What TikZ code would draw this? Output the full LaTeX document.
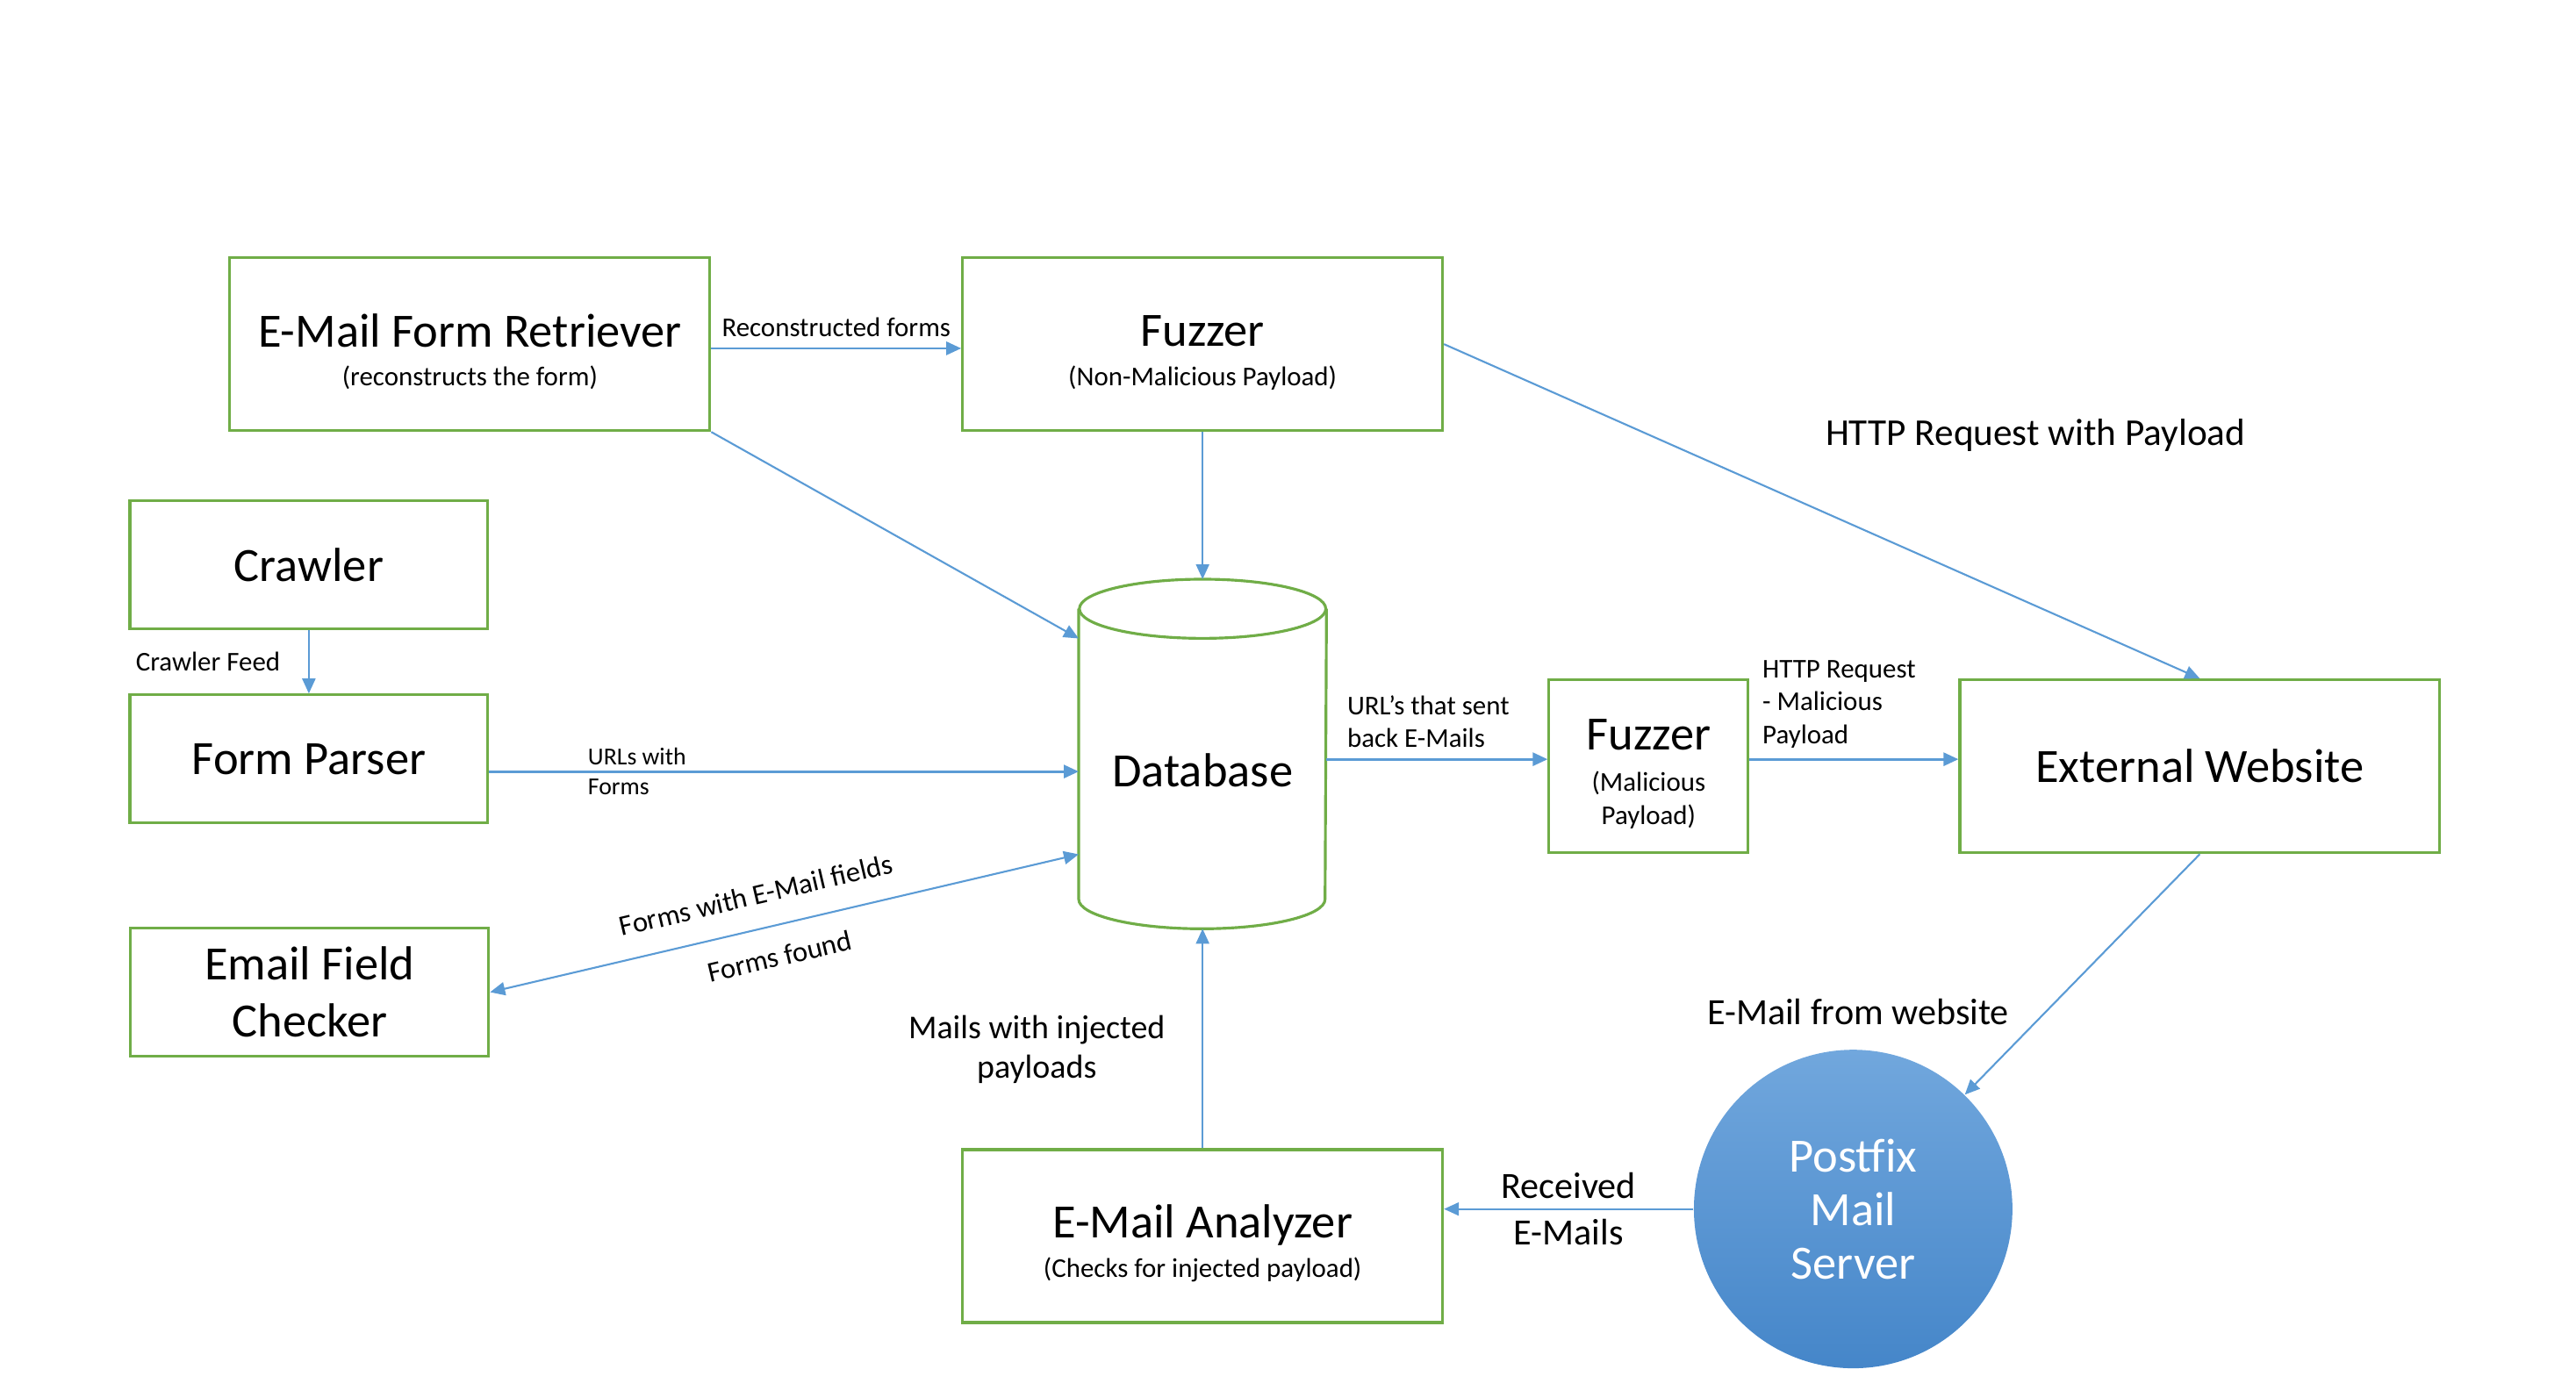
\documentclass[tikz,border=0pt]{standalone}
\usepackage{fontspec}
\setmainfont{Carlito}
\usetikzlibrary{arrows.meta,calc,positioning}

\definecolor{boxgreen}{HTML}{70AD47}
\definecolor{flowblue}{HTML}{5B9BD5}
\definecolor{mailtop}{HTML}{71A7DD}
\definecolor{mailbot}{HTML}{4586C9}

\newcommand{\subtxt}[1]{{\fontsize{8.8}{10.6}\selectfont #1}}
\newcommand{\tallstrut}{\rule{0pt}{15.5pt}}

\begin{document}
\begin{tikzpicture}[x=0.01872cm, y=-0.01872cm,
  box/.style={draw=boxgreen, line width=0.9pt, align=center,
    font=\fontsize{15.5}{18.6}\selectfont},
  wide/.style={box, minimum width=5.47cm, minimum height=1.97cm},
  small/.style={box, minimum width=4.08cm, minimum height=1.46cm},
  dbline/.style={draw=boxgreen, line width=0.9pt},
  flow/.style={draw=flowblue, line width=0.6pt,
    -{Triangle[length=0.17cm,width=0.15cm]}},
  both/.style={flow, {Triangle[length=0.17cm,width=0.15cm]}-{Triangle[length=0.17cm,width=0.15cm]}},
  lbl/.style={font=\fontsize{8.8}{10.6}\selectfont},
  lblmid/.style={font=\fontsize{12}{14.9}\selectfont}]
\useasboundingbox (0,0) rectangle (1568,851);

% Top row
\node[wide] (fr) at (286,209.5) {\tallstrut E-Mail Form Retriever\\[-6pt]\subtxt{(reconstructs the form)}};
\node[wide] (fz1) at (732,209.5) {\tallstrut Fuzzer\\[-6pt]\subtxt{(Non-Malicious Payload)}};

% Left column
\node[small] (cr) at (188,344) {Crawler};
\node[small] (fp) at (188,462) {Form Parser};
\node[small] (ef) at (188.5,604) {Email Field\\Checker};

% Database
\node[minimum width=2.81cm, minimum height=3.97cm] (db) at (732,459) {};
\draw[dbline] ($(db.north)+(0,18)$) ellipse [x radius=1.404cm, y radius=0.337cm];
\draw[dbline] ($(db.north west)+(0,18)$) -- ($(db.south west)+(0,-18)$)
  arc [start angle=180, end angle=360, x radius=1.404cm, y radius=0.337cm]
  -- ($(db.north east)+(0,18)$);
\node[font=\fontsize{15.5}{18.6}\selectfont] (dbname) at ($(db.center)+(0,10)$) {Database};

% Right side
\node[box, minimum width=2.27cm, minimum height=1.97cm] (fzm) at (1003.5,466.5)
  {\rule{0pt}{15pt}Fuzzer\\[-5.2pt]\subtxt{(Malicious}\\[-8pt]\subtxt{Payload)}};
\node[wide] (ext) at (1339,466.5) {External Website};
\node[wide] (an) at (732,752.5) {\tallstrut E-Mail Analyzer\\[-6pt]\subtxt{(Checks for injected payload)}};
\node[circle, minimum size=3.63cm, inner sep=0pt, top color=mailtop, bottom color=mailbot,
  text=white, align=center, font=\fontsize{15.5}{17.3}\selectfont] (pf) at (1128,736)
  {Postfix\\Mail\\Server};

% Arrows
\draw[flow, line width=0.8pt] (fr.-1.5) -- node[lbl, above] (lrec) {Reconstructed forms} (fr.-1.5 -| fz1.west);
\draw[flow] (fr.south east) -- (db.137);
\draw[flow] (fz1.south) -- (db.north);
\draw[flow] (fz1.east) -- (ext.north);
\node[font=\fontsize{12.3}{15}\selectfont] (lhttp) at (1239,265) {HTTP Request with Payload};

\draw[flow] (cr.south) -- node[lbl, left=2mm] (lfeed) {Crawler Feed} (fp.north);
\draw[flow, line width=0.8pt] (fp.-4) -- node[pos=0.148, right, align=left,
  font=\fontsize{7.9}{9.6}\selectfont] (lurl) {URLs with\\Forms} (fp.-4 -| db.west);
\draw[both] (ef.east) --
  node[font=\fontsize{9.3}{11}\selectfont, sloped, above, inner ysep=7.5pt, pos=0.465] (lfields) {Forms with E-Mail fields}
  node[font=\fontsize{9.3}{11}\selectfont, sloped, below, inner ysep=6.5pt, pos=0.48] (lfound) {Forms found}
  (db.219);

\draw[flow, line width=0.8pt] (db.east |- fzm.176) -- node[above, align=left, xshift=-1mm,
  font=\fontsize{8.8}{10.6}\selectfont] (lsent) {URL’s that sent\\back E-Mails} (fzm.176);
\draw[flow, line width=0.8pt] (fzm.4) -- node[lbl, above, align=left, xshift=-1.7mm] (lmal)
  {HTTP Request\\- Malicious\\Payload} (fzm.4 -| ext.west);

\draw[flow] (ext.south) -- (pf);
\node[lblmid] (lweb) at (1131,616) {E-Mail from website};
\draw[flow] (pf.west) -- node[lblmid, align=center] (lrecv) {Received\\E-Mails} (pf.west -| an.east);
\draw[flow] (an.north) -- node[pos=0.45, left=3mm, align=center,
  font=\fontsize{10.8}{12.7}\selectfont] (linj) {Mails with injected\\payloads} (db.south);

\end{tikzpicture}
\end{document}
